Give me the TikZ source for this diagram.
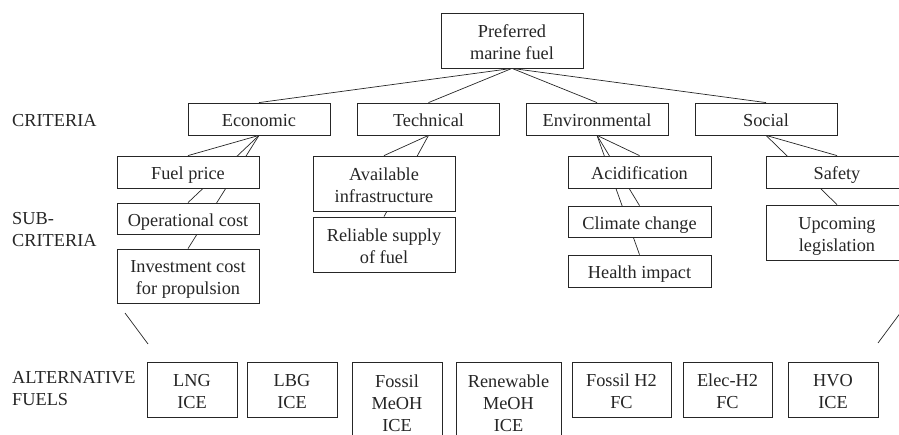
\documentclass[tikz,border=0pt]{standalone}
\usepackage{fontspec}
\setmainfont{Liberation Serif}
\usetikzlibrary{backgrounds}

\begin{document}
\begin{tikzpicture}[
    x=1pt, y=-1pt,
    every node/.style={font=\fontsize{18.3}{22}\selectfont, text=black!85},
    box/.style={rectangle, draw=black!85, fill=white, line width=0.8pt, align=center, inner sep=0pt, minimum width=142pt, minimum height=32pt, text height=17pt, text depth=1.6pt},
    twoline/.style={minimum height=55pt, text height=39pt},
    threeline/.style={minimum height=78pt, text height=61pt, anchor=north},
    side/.style={align=left, anchor=west, inner sep=0pt},
    link/.style={draw=black!85, line width=0.7pt}
]
\path[use as bounding box, clip] (0,0) rectangle (899,435);

% Goal
\node[box, twoline] (goal) at (512,40.5) {Preferred\\marine fuel};

% Criteria
\node[side] (crit) at (12,121) {CRITERIA};
\node[box] (eco) at (259,119) {Economic};
\node[box] (tech) at (428.5,119) {Technical};
\node[box] (env) at (597,119) {Environmental};
\node[box] (soc) at (766,119) {Social};

% Sub-criteria
\node[side] (subcrit) at (12,230) {SUB-\\CRITERIA};
\node[box] (price) at (188,172) {Fuel price};
\node[box, minimum height=31pt] (opcost) at (188,218.5) {Operational cost};
\node[box, twoline, minimum height=54pt] (invest) at (188,276) {Investment cost\\for propulsion};
\node[box, twoline] (infra) at (384,183.5) {Available\\infrastructure};
\node[box, twoline] (supply) at (384,244.5) {Reliable supply\\of fuel};
\node[box, minimum width=143pt] (acid) at (639.5,172) {Acidification};
\node[box, minimum width=143pt, minimum height=31pt] (climate) at (639.5,221.5) {Climate change};
\node[box, minimum width=143pt] (health) at (639.5,271) {Health impact};
\node[box] (safety) at (837,172) {Safety};
\node[box, twoline] (legis) at (837,232.5) {Upcoming\\legislation};

% Alternatives
\node[side] (alt) at (12,389) {ALTERNATIVE\\FUELS};
\node[box, twoline, minimum width=90pt] (lng) at (192,389.5) {LNG\\ICE};
\node[box, twoline, minimum width=90pt] (lbg) at (292,389.5) {LBG\\ICE};
\node[box, threeline, minimum width=90pt] (fmeoh) at (397,362) {Fossil\\MeOH\\ICE};
\node[box, threeline, minimum width=105pt] (rmeoh) at (508.5,362) {Renewable\\MeOH\\ICE};
\node[box, twoline, minimum width=99pt] (fhtwo) at (621.5,389.5) {Fossil H2\\FC};
\node[box, twoline, minimum width=89pt] (ehtwo) at (727.5,389.5) {Elec-H2\\FC};
\node[box, twoline, minimum width=90pt] (hvo) at (833,389.5) {HVO\\ICE};

% Side strokes
\coordinate (lefttop) at (125,313);
\coordinate (leftbot) at (148,344);
\coordinate (rightbot) at (878,343);
\coordinate (righttop) at (901,312);

% Lines
\begin{scope}[on background layer]
\foreach \c in {eco,tech,env,soc}
    \draw[link] (goal.south) -- (\c.north);
\foreach \c in {price,opcost,invest}
    \draw[link] (eco.south) -- (\c.north);
\foreach \c in {infra,supply}
    \draw[link] (tech.south) -- (\c.north);
\foreach \c in {acid,climate,health}
    \draw[link] (env.south) -- (\c.north);
\foreach \c in {safety,legis}
    \draw[link] (soc.south) -- (\c.north);
\end{scope}
\draw[link] (lefttop) -- (leftbot);
\draw[link] (rightbot) -- (righttop);

\end{tikzpicture}
\end{document}
